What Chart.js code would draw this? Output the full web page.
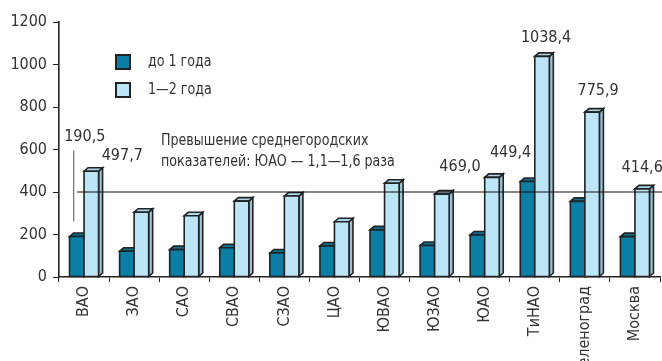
<!DOCTYPE html>
<html>
<head>
<meta charset="utf-8">
<script src="https://cdn.jsdelivr.net/npm/chart.js@4/dist/chart.umd.min.js"></script>
<style>
  html, body { margin: 0; padding: 0; background: #fff; overflow: hidden; }
  #wrap { width: 662px; height: 361px; position: relative; }
</style>
</head>
<body>
<div id="wrap"><canvas id="chart" width="662" height="361"></canvas></div>
<script>
// Districts of Moscow
const categories = ['ВАО', 'ЗАО', 'САО', 'СВАО', 'СЗАО', 'ЦАО', 'ЮВАО', 'ЮЗАО', 'ЮАО', 'ТиНАО', 'Зеленоград', 'Москва'];
// Series: under one year, one to two years
const seriesNames = ['до 1 года', '1—2 года'];
const underOneYear = [190.5, 121, 129, 138, 113, 146, 222, 148, 198, 449.4, 356, 190];
const oneToTwoYears = [497.7, 305, 288, 357, 381, 260, 441, 390, 469.0, 1038.4, 775.9, 414.6];
// Y axis
const yMin = 0, yMax = 1200, yStep = 200;
// City average reference level
const cityAverage = 400;
const noteLines = ['Превышение среднегородских', 'показателей: ЮАО — 1,1—1,6 раза'];

const FONT = '"DejaVu Sans Condensed", "DejaVu Sans", sans-serif';
const SIZE = 16;
const NARROW = 0.88;   // horizontal squeeze for the note and legend captions
const TEXT = '#333333';
const OUTLINE = '#222222';
const faces = [
  { front: '#0a7ea5', top: '#0b6f90', side: '#075e7a' },
  { front: '#bde5f8', top: '#a8d7ed', side: '#98c3d8' }
];

// Labelled bars and where their numbers sit relative to the bar top
const valueLabels = [
  { ds: 0, i: 0, dx: 8, dy: -100, leader: true },
  { ds: 1, i: 0, dx: 31, dy: -15 },
  { ds: 1, i: 8, dx: -32, dy: -10 },
  { ds: 0, i: 9, dx: -17, dy: -29 },
  { ds: 1, i: 9, dx: 4, dy: -18 },
  { ds: 1, i: 10, dx: 6, dy: -21 },
  { ds: 1, i: 11, dx: 0, dy: -21 }
];

const fmt = v => v.toFixed(1).replace('.', ',');

function narrowText(ctx, text, x, y) {
  ctx.save();
  ctx.translate(x, y);
  ctx.scale(NARROW, 1);
  ctx.fillText(text, 0, 0);
  ctx.restore();
}

const boxes3d = {
  id: 'boxes3d',
  afterDatasetsDraw(chart) {
    const ctx = chart.ctx;
    const depthX = 4, depthY = 3.5;
    const metas = [chart.getDatasetMeta(0), chart.getDatasetMeta(1)];
    ctx.save();
    ctx.lineJoin = 'miter';
    for (let i = 0; i < categories.length; i++) {
      for (let d = 0; d < 2; d++) {
        const el = metas[d].data[i];
        const left = el.x - el.width / 2, right = el.x + el.width / 2;
        const top = el.y, base = el.base;
        ctx.lineWidth = 1.6;
        ctx.strokeStyle = OUTLINE;
        // side face
        ctx.beginPath();
        ctx.moveTo(right, base);
        ctx.lineTo(right + depthX, base - depthY);
        ctx.lineTo(right + depthX, top - depthY);
        ctx.lineTo(right, top);
        ctx.closePath();
        ctx.fillStyle = faces[d].side; ctx.fill(); ctx.stroke();
        // top face
        ctx.beginPath();
        ctx.moveTo(left, top);
        ctx.lineTo(left + depthX, top - depthY);
        ctx.lineTo(right + depthX, top - depthY);
        ctx.lineTo(right, top);
        ctx.closePath();
        ctx.fillStyle = faces[d].top; ctx.fill(); ctx.stroke();
        // front face
        ctx.beginPath();
        ctx.rect(left, top, right - left, base - top);
        ctx.fillStyle = faces[d].front; ctx.fill(); ctx.stroke();
      }
    }

    const area = chart.chartArea;
    const yScale = chart.scales.y;
    // city average line
    const yAvg = yScale.getPixelForValue(cityAverage);
    ctx.beginPath();
    ctx.lineWidth = 1.2;
    ctx.strokeStyle = '#111';
    ctx.moveTo(area.left + 18, yAvg);
    ctx.lineTo(chart.width, yAvg);
    ctx.stroke();

    ctx.fillStyle = TEXT;
    ctx.font = SIZE + 'px ' + FONT;
    ctx.textBaseline = 'middle';
    ctx.textAlign = 'left';
    narrowText(ctx, noteLines[0], area.left + 102, 141);
    narrowText(ctx, noteLines[1], area.left + 102, 162);

    // value labels
    ctx.textAlign = 'center';
    valueLabels.forEach(l => {
      const el = metas[l.ds].data[l.i];
      const val = chart.data.datasets[l.ds].data[l.i];
      const x = el.x + l.dx, y = el.y + l.dy;
      ctx.fillStyle = TEXT;
      ctx.fillText(fmt(val), x, y);
      if (l.leader) {
        ctx.beginPath();
        ctx.lineWidth = 1;
        ctx.strokeStyle = '#555';
        ctx.moveTo(el.x - 3, y + 14);
        ctx.lineTo(el.x - 3, el.y - 15);
        ctx.stroke();
      }
    });

    // legend
    const lx = area.left + 57;
    [55, 83].forEach((ly, d) => {
      ctx.lineWidth = 2;
      ctx.strokeStyle = OUTLINE;
      ctx.fillStyle = faces[d].front;
      ctx.fillRect(lx, ly, 14, 14);
      ctx.strokeRect(lx, ly, 14, 14);
      ctx.fillStyle = TEXT;
      ctx.textAlign = 'left';
      narrowText(ctx, seriesNames[d], lx + 32, ly + 7);
    });
    ctx.restore();
  }
};

new Chart(document.getElementById('chart'), {
  type: 'bar',
  data: {
    labels: categories,
    datasets: [
      { label: seriesNames[0], data: underOneYear, backgroundColor: 'rgba(0,0,0,0)', borderWidth: 0 },
      { label: seriesNames[1], data: oneToTwoYears, backgroundColor: 'rgba(0,0,0,0)', borderWidth: 0 }
    ]
  },
  options: {
    responsive: false,
    animation: false,
    events: [],
    datasets: { bar: { categoryPercentage: 0.58, barPercentage: 1.0 } },
    layout: { padding: { top: 22, right: 2, left: 0, bottom: 0 } },
    plugins: { legend: { display: false }, tooltip: { enabled: false } },
    scales: {
      x: {
        grid: { drawOnChartArea: false, drawTicks: true, tickLength: 5, color: OUTLINE, offset: true },
        border: { display: true, color: OUTLINE, width: 1.6 },
        ticks: { autoSkip: false, minRotation: 90, maxRotation: 90, padding: 4, color: TEXT, font: { family: FONT, size: SIZE } },
        afterFit(scale) { scale.height = 84; scale.paddingLeft = 0; scale.paddingRight = 0; }
      },
      y: {
        min: yMin, max: yMax,
        grid: { drawOnChartArea: false, drawTicks: true, tickLength: 6, color: OUTLINE },
        border: { display: true, color: OUTLINE, width: 1.6 },
        ticks: { stepSize: yStep, padding: 6, color: TEXT, font: { family: FONT, size: SIZE }, callback: v => String(v) },
        afterFit(scale) { scale.width = 59; scale.paddingTop = 0; scale.paddingBottom = 0; }
      }
    }
  },
  plugins: [boxes3d]
});
</script>
</body>
</html>
